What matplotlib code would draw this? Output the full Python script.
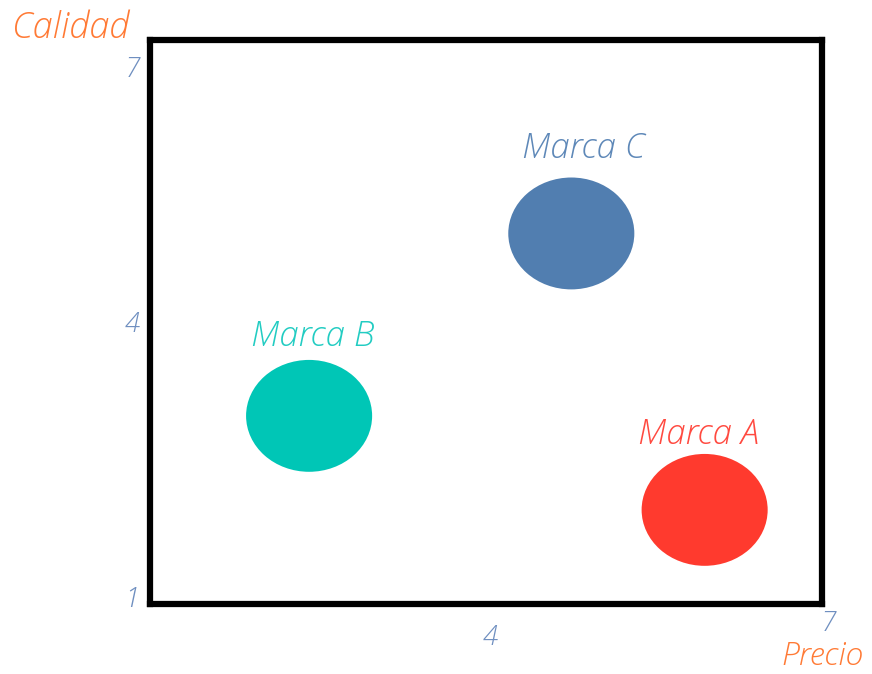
import matplotlib
matplotlib.use('Agg')
import matplotlib.pyplot as plt
from matplotlib.patches import Ellipse

# datos del mapa de posicionamiento
marcas = ['Marca A', 'Marca B', 'Marca C']
precio = [5.95, 2.42, 4.76]
calidad = [2.0, 3.0, 4.94]
colores = ['#FF3A2E', '#00C6B6', '#517EB0']
colores_txt = ['#FF4A40', '#22CCC2', '#5E88B8']

xticks = [4, 7]
yticks = [1, 4, 7]

plt.rcParams['font.family'] = ['Open Sans', 'DejaVu Sans']
fuente = dict(style='italic', fontweight=300)

fig = plt.figure(figsize=(8.72, 6.74), dpi=100)
ax = fig.add_axes([0.172, 0.104, 0.771, 0.837])
ax.set_xlim(1, 7)
ax.set_ylim(1, 7)
ax.set_xticks([])
ax.set_yticks([])
for sp in ax.spines.values():
    sp.set_linewidth(4.5)
    sp.set_color('black')

# circulos (ancho/alto en unidades de datos)
offs = [(-6, 75), (4, 79), (12, 85)]
for i in range(len(marcas)):
    ax.add_patch(Ellipse((precio[i], calidad[i]), 1.125, 1.19, color=colores[i], lw=0))
    ax.annotate(marcas[i], xy=(precio[i], calidad[i]), xytext=offs[i],
                textcoords='offset pixels', ha='center', va='center',
                fontsize=25, color=colores_txt[i], **fuente)

# etiquetas de los ejes (desplazadas como en el original)
tick_col = '#6F8FC0'
y_off = {1: 4, 4: -3, 7: -30}
for v in yticks:
    ax.annotate(str(v), xy=(0, v), xycoords=('axes fraction', 'data'),
                xytext=(-18, y_off[v]), textcoords='offset pixels',
                ha='center', va='center', fontsize=20, color=tick_col, **fuente)
x_off = {4: (4, -34), 7: (6, -20)}
for v in xticks:
    ax.annotate(str(v), xy=(v, 0), xycoords=('data', 'axes fraction'),
                xytext=x_off[v], textcoords='offset pixels',
                ha='center', va='center', fontsize=20, color=tick_col, **fuente)

fig.text(12 / 872, 1 - 28 / 674, 'Calidad', ha='left', va='center', fontsize=26,
         color='#FF7A35', **fuente)
fig.text(864 / 872, 1 - 665 / 674, 'Precio', ha='right', va='baseline', fontsize=23,
         color='#FF7A35', **fuente)

fig.savefig('out.png', dpi=100)
